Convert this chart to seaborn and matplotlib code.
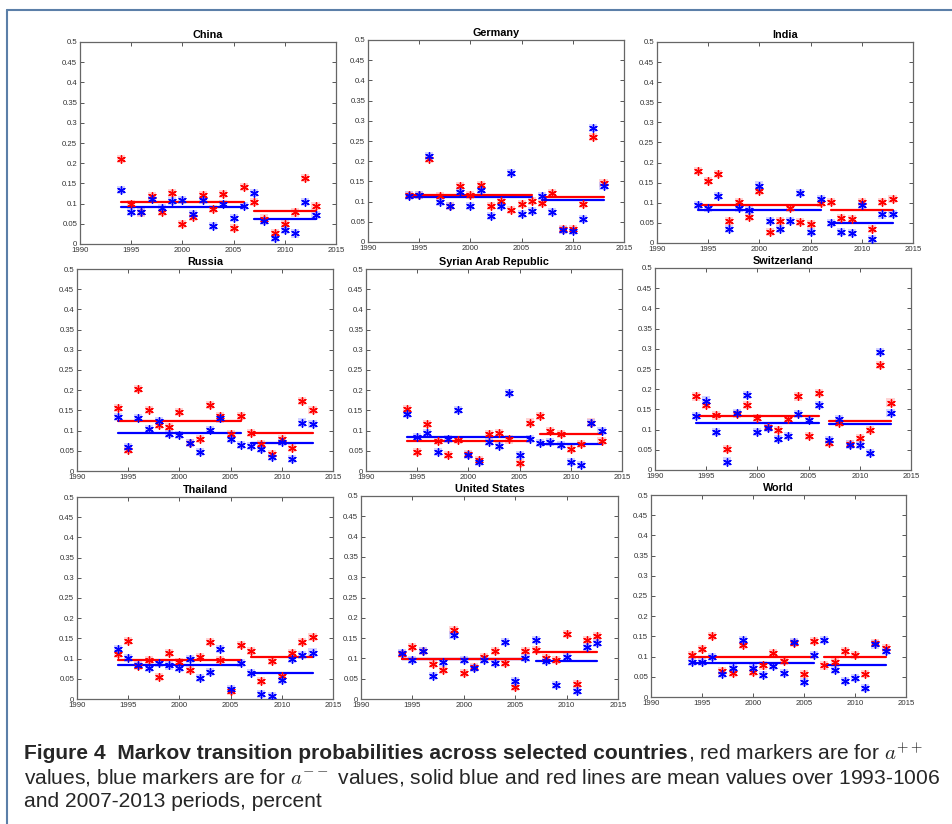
import numpy as np
import pandas as pd
import matplotlib
matplotlib.use("Agg")
import matplotlib.pyplot as plt
from matplotlib.lines import Line2D
import seaborn as sns

sns.set_theme(style="white")
plt.rcParams['font.family'] = ['Liberation Sans', 'DejaVu Sans']
plt.rcParams['mathtext.fontset'] = 'cm'

years = list(range(1994, 2014))
split_year = 2007

countries = ["China", "Germany", "India",
             "Russia", "Syrian Arab Republic", "Switzerland",
             "Thailand", "United States", "World"]

red_china = [0.210, 0.098, 0.078, 0.118, 0.079, 0.127, 0.050, 0.068, 0.121, 0.087,
             0.124, 0.040, 0.142, 0.103, 0.063, 0.028, 0.050, 0.078, 0.164, 0.094]
blue_china = [0.133, 0.080, 0.080, 0.112, 0.089, 0.107, 0.110, 0.075, 0.108, 0.045,
              0.100, 0.065, 0.093, 0.127, 0.056, 0.015, 0.035, 0.026, 0.104, 0.072]

red_germany = [0.116, 0.116, 0.205, 0.114, 0.090, 0.139, 0.117, 0.141, 0.088, 0.102,
               0.080, 0.094, 0.101, 0.096, 0.122, 0.031, 0.031, 0.093, 0.259, 0.147]
blue_germany = [0.115, 0.117, 0.213, 0.098, 0.090, 0.125, 0.088, 0.128, 0.065, 0.088,
                0.171, 0.070, 0.077, 0.113, 0.075, 0.030, 0.028, 0.056, 0.282, 0.139]

red_india = [0.178, 0.155, 0.172, 0.055, 0.102, 0.064, 0.130, 0.028, 0.055, 0.087,
             0.053, 0.047, 0.099, 0.103, 0.062, 0.060, 0.103, 0.034, 0.101, 0.109]
blue_india = [0.095, 0.087, 0.118, 0.035, 0.087, 0.081, 0.143, 0.055, 0.035, 0.055,
              0.124, 0.027, 0.109, 0.050, 0.027, 0.025, 0.094, 0.010, 0.071, 0.073]

red_russia = [0.157, 0.053, 0.202, 0.150, 0.113, 0.108, 0.147, 0.070, 0.080, 0.164,
              0.135, 0.092, 0.137, 0.093, 0.066, 0.043, 0.080, 0.056, 0.174, 0.150]
blue_russia = [0.133, 0.060, 0.132, 0.103, 0.124, 0.091, 0.090, 0.070, 0.048, 0.101,
               0.130, 0.080, 0.064, 0.061, 0.055, 0.035, 0.073, 0.030, 0.120, 0.116]

red_syria = [0.153, 0.048, 0.116, 0.074, 0.040, 0.076, 0.042, 0.027, 0.091, 0.093,
             0.078, 0.020, 0.120, 0.137, 0.098, 0.091, 0.055, 0.067, 0.120, 0.075]
blue_syria = [0.142, 0.084, 0.093, 0.048, 0.080, 0.152, 0.040, 0.023, 0.072, 0.061,
              0.192, 0.040, 0.080, 0.069, 0.072, 0.065, 0.023, 0.015, 0.118, 0.100]

red_switzerland = [0.182, 0.161, 0.135, 0.053, 0.138, 0.161, 0.128, 0.107, 0.100, 0.126,
                   0.182, 0.085, 0.190, 0.066, 0.116, 0.065, 0.078, 0.098, 0.259, 0.167]
blue_switzerland = [0.133, 0.172, 0.093, 0.021, 0.141, 0.185, 0.094, 0.103, 0.077, 0.085,
                    0.138, 0.123, 0.161, 0.075, 0.126, 0.063, 0.062, 0.042, 0.293, 0.141]

red_thailand = [0.112, 0.144, 0.081, 0.097, 0.054, 0.114, 0.091, 0.071, 0.105, 0.142,
                0.097, 0.019, 0.133, 0.119, 0.044, 0.093, 0.057, 0.114, 0.142, 0.154]
blue_thailand = [0.124, 0.102, 0.085, 0.077, 0.089, 0.083, 0.077, 0.098, 0.051, 0.066,
                 0.124, 0.025, 0.088, 0.064, 0.013, 0.008, 0.046, 0.100, 0.108, 0.115]

red_us = [0.111, 0.127, 0.118, 0.086, 0.071, 0.169, 0.064, 0.078, 0.103, 0.119,
          0.088, 0.029, 0.119, 0.120, 0.100, 0.097, 0.159, 0.036, 0.145, 0.154]
blue_us = [0.113, 0.095, 0.119, 0.056, 0.092, 0.158, 0.095, 0.076, 0.096, 0.088,
           0.141, 0.045, 0.101, 0.145, 0.093, 0.034, 0.104, 0.020, 0.128, 0.137]

red_world = [0.103, 0.118, 0.151, 0.065, 0.059, 0.128, 0.061, 0.078, 0.109, 0.090,
             0.134, 0.056, 0.138, 0.078, 0.087, 0.113, 0.103, 0.056, 0.134, 0.121]
blue_world = [0.087, 0.087, 0.098, 0.056, 0.071, 0.142, 0.073, 0.055, 0.077, 0.059,
              0.136, 0.037, 0.104, 0.140, 0.067, 0.040, 0.047, 0.022, 0.130, 0.113]

red_series = [red_china, red_germany, red_india, red_russia, red_syria,
              red_switzerland, red_thailand, red_us, red_world]
blue_series = [blue_china, blue_germany, blue_india, blue_russia, blue_syria,
               blue_switzerland, blue_thailand, blue_us, blue_world]

xticks = [1990, 1995, 2000, 2005, 2010, 2015]
yticks = [0, 0.05, 0.1, 0.15, 0.2, 0.25, 0.3, 0.35, 0.4, 0.45, 0.5]
ytick_labels = ["0", "0.05", "0.1", "0.15", "0.2", "0.25", "0.3", "0.35", "0.4", "0.45", "0.5"]

W, H = 953, 824
# axes boxes in pixels: left, top, right, bottom
boxes = [(80, 42, 336, 244), (368, 40, 624, 242), (657, 42, 913, 243),
         (77, 269, 333, 471), (366, 269, 622, 471), (655, 268, 911, 470),
         (77, 497, 333, 699), (361, 496, 618, 699), (651, 495, 906, 697)]

RED = "#ff0000"
BLUE = "#0000ff"
ast = (6, 2, 0)

fig = plt.figure(figsize=(W / 100, H / 100), dpi=100)
fig.patch.set_facecolor("white")

for i, name in enumerate(countries):
    l, t, r, b = boxes[i]
    ax = fig.add_axes([l / W, 1 - b / H, (r - l) / W, (b - t) / H])
    df = pd.DataFrame({"year": years, "red": red_series[i], "blue": blue_series[i]})
    df["period"] = np.where(df["year"] < split_year, "p1", "p2")

    for col, c, halo in [("red", RED, "#ffb0b0"), ("blue", BLUE, "#b0b0ff")]:
        sns.scatterplot(data=df, x="year", y=col, ax=ax, marker="s", s=34,
                        color=halo, edgecolor="none", alpha=0.55, zorder=2, legend=False)
    for col, c in [("red", RED), ("blue", BLUE)]:
        sns.scatterplot(data=df, x="year", y=col, ax=ax, marker=ast, s=30,
                        color=c, edgecolor=c, linewidth=1.0, zorder=3, legend=False)

    means = df.groupby("period").agg(y0=("year", "min"), y1=("year", "max"),
                                     red=("red", "mean"), blue=("blue", "mean"))
    for _, row in means.iterrows():
        for col, c in [("blue", BLUE), ("red", RED)]:
            seg = pd.DataFrame({"x": [row["y0"], row["y1"]], "y": [row[col], row[col]]})
            sns.lineplot(data=seg, x="x", y="y", ax=ax, color=c, linewidth=1.6,
                         zorder=2.5, legend=False)

    ax.set_xlim(1990, 2015)
    ax.set_ylim(0, 0.5)
    ax.set_xticks(xticks)
    ax.set_xticklabels([str(v) for v in xticks])
    ax.set_yticks(yticks)
    ax.set_yticklabels(ytick_labels)
    ax.set_xlabel("")
    ax.set_ylabel("")
    ax.tick_params(axis="both", direction="in", length=3, width=0.7, colors="#555555",
                   labelsize=5.6, labelcolor="#333333", top=True, right=True,
                   bottom=True, left=True, pad=2)
    for sp in ax.spines.values():
        sp.set_visible(True)
        sp.set_color("#666666")
        sp.set_linewidth(0.9)
    ax.set_facecolor("white")
    ax.set_title(name, fontsize=7.8, fontweight="bold", pad=3, color="black")

# figure frame
frame_c = "#5b7fa8"
fig.add_artist(Line2D([7 / W, 1.0], [1 - 10 / H, 1 - 10 / H], transform=fig.transFigure,
                      color=frame_c, linewidth=1.5))
fig.add_artist(Line2D([7 / W, 7 / W], [1 - 10 / H, 0.0], transform=fig.transFigure,
                      color=frame_c, linewidth=1.5))

# caption
cap_fs = 15.1
renderer = fig.canvas.get_renderer()
x0 = 24 / W
t1 = fig.text(x0, 1 - 759 / H, "Figure 4  Markov transition probabilities across selected countries",
              fontsize=cap_fs, fontweight="bold", va="baseline", ha="left")
bb = t1.get_window_extent(renderer=renderer)
fig.text(bb.x1 / W, 1 - 759 / H, r", red markers are for $a^{++}$",
         fontsize=cap_fs, va="baseline", ha="left")
fig.text(x0, 1 - 783 / H,
         r"values, blue markers are for $a^{--}$ values, solid blue and red lines are mean values over 1993-1006",
         fontsize=cap_fs, va="baseline", ha="left")
fig.text(x0, 1 - 807 / H, "and 2007-2013 periods, percent",
         fontsize=cap_fs, va="baseline", ha="left")

fig.savefig("out.png", dpi=100, facecolor="white")
